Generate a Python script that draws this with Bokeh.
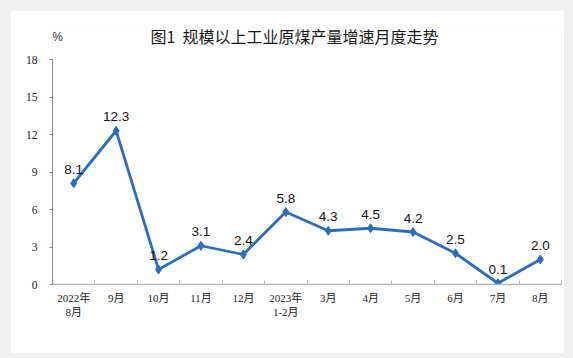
from bokeh.plotting import figure
from bokeh.models import ColumnDataSource, FixedTicker, Label, Range1d
from bokeh.core.properties import value
from bokeh.embed import file_html
from bokeh.resources import INLINE
from bokeh.core.templates import FILE

months = ["2022年\n8月", "9月", "10月", "11月", "12月", "2023年\n1-2月",
          "3月", "4月", "5月", "6月", "7月", "8月"]
growth = [8.1, 12.3, 1.2, 3.1, 2.4, 5.8, 4.3, 4.5, 4.2, 2.5, 0.1, 2.0]
y_ticks = [0, 3, 6, 9, 12, 15, 18]
title_text = "图1\u00a0\u00a0规模以上工业原煤产量增速月度走势"
unit_text = "%"

xs = [i + 0.5 for i in range(len(months))]
src = ColumnDataSource(dict(x=xs, y=growth, lbl=[f"{v:.1f}" for v in growth]))

BLUE = "#2c6dbd"
CJK = "Liberation Serif, Noto Sans CJK SC"
Y_TOP = 20.72  # head room above the axis for the title row

p = figure(width=554, height=343, output_backend="svg", toolbar_location=None,
           x_range=Range1d(0, len(months)), y_range=Range1d(y_ticks[0], Y_TOP),
           min_border_left=42, min_border_right=3, min_border_top=15, min_border_bottom=69)
p.background_fill_color = "white"
p.border_fill_color = "white"
p.outline_line_color = None
p.xgrid.visible = False
p.ygrid.visible = False

p.line("x", "y", source=src, line_color=BLUE, line_width=2.8)
p.scatter("x", "y", source=src, marker="diamond", size=9, fill_color=BLUE, line_color=BLUE)
p.text("x", "y", text="lbl", source=src, text_align="center", text_baseline="alphabetic",
       y_offset=-14, text_font=value("Liberation Sans"), text_font_size="13.5px",
       text_color="#111111")

# x axis
xa = p.xaxis[0]
xa.ticker = FixedTicker(ticks=xs, minor_ticks=list(range(len(months) + 1)))
xa.major_label_overrides = {x: m for x, m in zip(xs, months)}
xa.major_tick_out = 0
xa.major_tick_in = 0
xa.minor_tick_in = 4
xa.minor_tick_out = 0
xa.minor_tick_line_color = "#b5b5b5"
xa.axis_line_color = "#b5b5b5"
xa.axis_line_width = 1.5
xa.major_label_text_font = CJK
xa.major_label_text_font_size = "11px"
xa.major_label_text_color = "#222222"
xa.major_label_standoff = 7

# y axis
ya = p.yaxis[0]
ya.ticker = FixedTicker(ticks=y_ticks)
ya.bounds = (y_ticks[0], y_ticks[-1])
ya.minor_tick_line_color = None
ya.major_tick_out = 3
ya.major_tick_in = 0
ya.major_tick_line_color = "#8a8a8a"
ya.axis_line_color = "#8a8a8a"
ya.major_label_text_font = "Liberation Serif"
ya.major_label_text_font_size = "11.5px"
ya.major_label_text_color = "#222222"
ya.major_label_standoff = 12

# title and unit as labels in the head room
p.add_layout(Label(x=5.705, y=19.9, text=title_text, text_align="center",
                   text_baseline="middle", text_font="Noto Sans CJK SC",
                   text_font_size="16px", text_color="#1a1a1a"))
p.add_layout(Label(x=0.12, y=19.8, text=unit_text, text_align="center",
                   text_baseline="middle", text_font="Liberation Sans",
                   text_font_size="12px", text_color="#333333"))

tmpl = FILE.environment.from_string(
    "{% extends base %}{% block inner_head %}{{ super() }}"
    "<style>html{background:#f0f0f0 !important;height:auto !important;}"
    "body{background:#f0f0f0 !important;margin:10px 0 0 10px !important;height:auto !important;padding:0 !important;}</style>"
    "{% endblock %}")
html = file_html(p, INLINE, template=tmpl, template_variables={"base": FILE})
open("out.html", "w").write(html)
